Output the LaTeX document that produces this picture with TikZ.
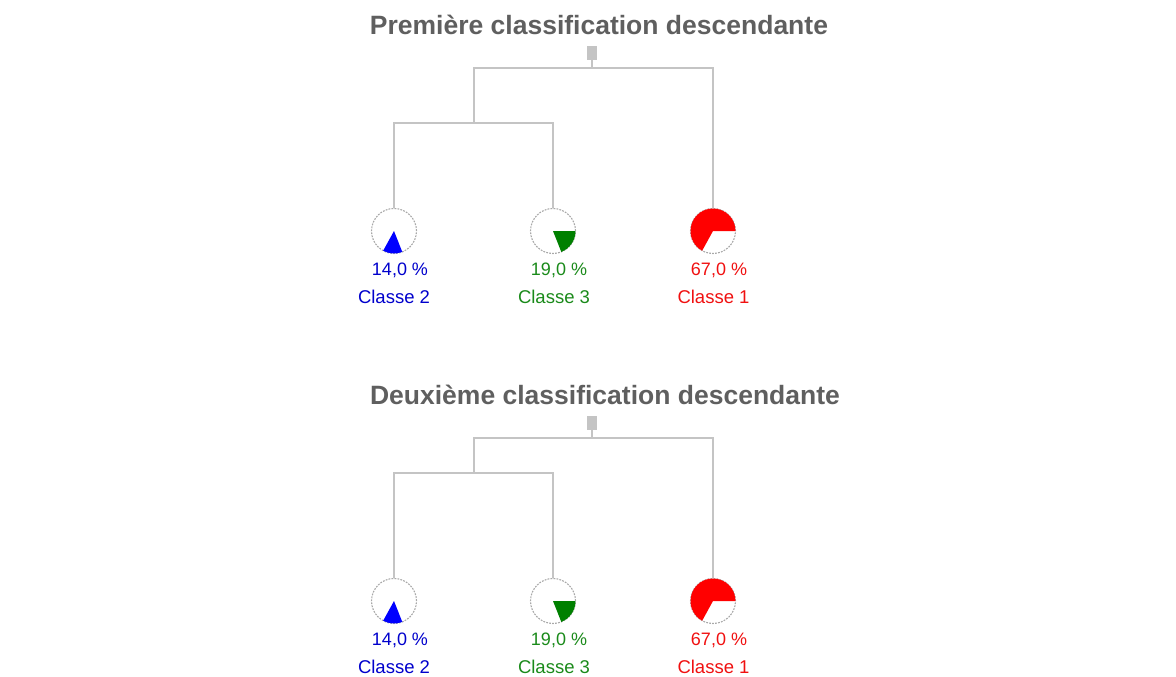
\documentclass[tikz,border=0pt]{standalone}
\usepackage{fontspec}
\setmainfont{Liberation Sans}
\definecolor{treegray}{HTML}{C4C4C4}
\definecolor{titlegray}{HTML}{5F5F5F}
\definecolor{ringgray}{HTML}{A8A8A8}
\definecolor{pieblue}{HTML}{0000FF}
\definecolor{piegreen}{HTML}{008000}
\definecolor{piered}{HTML}{FF0000}
\definecolor{txtblue}{HTML}{0000CC}
\definecolor{txtgreen}{HTML}{1A8A1A}
\definecolor{txtred}{HTML}{F01010}
\begin{document}
\begin{tikzpicture}[x=1pt,y=1pt,
  title/.style={font=\bfseries\fontsize{26.5}{30}\selectfont, text=titlegray, inner sep=0},
  branch/.style={draw=treegray, line width=1.6pt},
  rootbox/.style={fill=treegray, minimum width=10pt, minimum height=14pt, inner sep=0},
  pie/.style={circle, draw=ringgray, dash pattern=on 1.8pt off 1.2pt, line width=1.1pt, minimum size=45pt, inner sep=0},
  pct/.style={font=\fontsize{18}{20}\selectfont, inner sep=0},
  cls/.style={font=\fontsize{18.5}{20}\selectfont, inner sep=0}]
\useasboundingbox (0,0) rectangle (1176,-677);

% two identical dendrograms, stacked
\foreach \p/\dy/\mid/\tx/\ttl in {a/0/123/599/{Première classification descendante},
                                   b/370/473/605/{Deuxième classification descendante}}{
  \node[title] (\p-title) at (\tx,{-25-\dy}) {\ttl};
  \node[rootbox] (\p-root) at (592,{-53-\dy}) {};
  \coordinate (\p-top) at (474,{-68-\dy});
  \coordinate (\p-mid) at (474,-\mid);

  \node[pie] (\p-c2) at (394,{-231-\dy}) {};
  \node[pie] (\p-c3) at (553,{-231-\dy}) {};
  \node[pie] (\p-c1) at (713,{-231-\dy}) {};

  % branches
  \draw[branch] (\p-root) -- (\p-root |- \p-top);
  \draw[branch] (\p-mid) -- (\p-top) -| (\p-c1.north);
  \draw[branch] (\p-c2.north) |- (\p-mid) -| (\p-c3.north);

  % class shares as slices of one pie
  \fill[piered] (\p-c1.center) -- ++(0:22.5pt) arc[start angle=0, end angle=241.2, radius=22.5pt] -- cycle;
  \fill[pieblue] (\p-c2.center) -- ++(241.2:22.5pt) arc[start angle=241.2, end angle=291.6, radius=22.5pt] -- cycle;
  \fill[piegreen] (\p-c3.center) -- ++(291.6:22.5pt) arc[start angle=291.6, end angle=360, radius=22.5pt] -- cycle;

  % labels
  \node[pct, text=txtblue] (\p-p2) at (400,{-270-\dy}) {14,0 \%};
  \node[pct, text=txtgreen] (\p-p3) at (559,{-270-\dy}) {19,0 \%};
  \node[pct, text=txtred] (\p-p1) at (719,{-270-\dy}) {67,0 \%};
  \node[cls, text=txtblue] (\p-l2) at (394,{-297-\dy}) {Classe 2};
  \node[cls, text=txtgreen] (\p-l3) at (554,{-297-\dy}) {Classe 3};
  \node[cls, text=txtred] (\p-l1) at (713.5,{-297-\dy}) {Classe 1};
}
\end{tikzpicture}
\end{document}
